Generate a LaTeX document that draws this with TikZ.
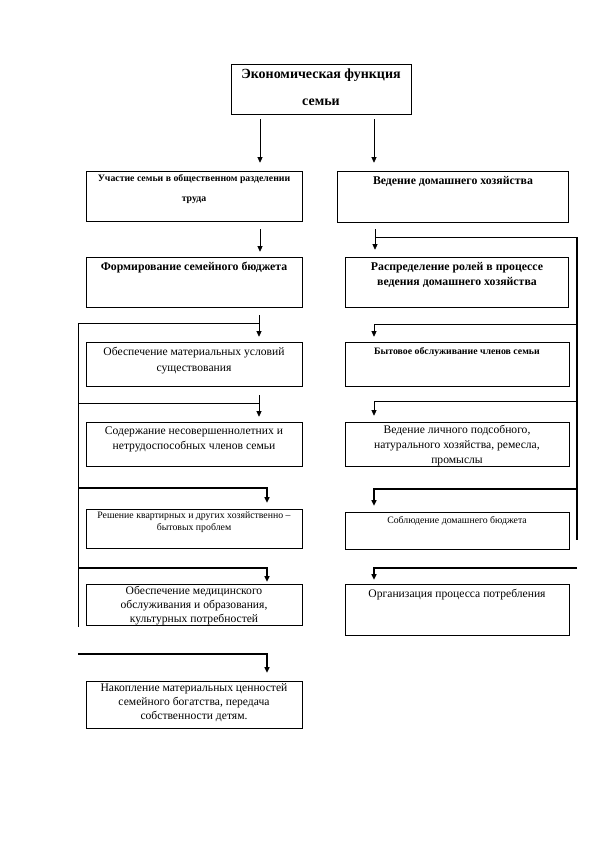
\documentclass[tikz,border=0pt]{standalone}
\usepackage{fontspec}
\setmainfont{Liberation Serif}
\usetikzlibrary{arrows.meta}
\begin{document}
\begin{tikzpicture}[x=1pt,y=-1pt,
  box/.style={draw, line width=0.6pt, inner sep=0pt},
  tl/.style={anchor=mid, inner sep=0pt},
  thn/.style={line width=0.6pt},
  thk/.style={line width=1.5pt},
  arr/.style={-{Triangle[width=5pt,length=5.5pt]}},
  fT/.style={tl, font=\fontsize{14}{16}\selectfont\bfseries},
  fBs/.style={tl, font=\fontsize{9.8}{11}\selectfont\bfseries},
  fBm/.style={tl, font=\fontsize{11.8}{13}\selectfont\bfseries},
  fR/.style={tl, font=\fontsize{11.6}{13}\selectfont},
  fRs/.style={tl, font=\fontsize{9.8}{11}\selectfont},
]
\useasboundingbox (0,0) rectangle (595,842);

% boxes
\node[box, minimum width=180pt, minimum height=50pt] (top) at (321,89) {};
\node[box, minimum width=216pt, minimum height=50pt] (L1) at (194,196) {};
\node[box, minimum width=216pt, minimum height=50pt] (L2) at (194,282) {};
\node[box, minimum width=216pt, minimum height=44pt] (L3) at (194,364) {};
\node[box, minimum width=216pt, minimum height=44pt] (L4) at (194,444) {};
\node[box, minimum width=216pt, minimum height=39pt] (L5) at (194,528.5) {};
\node[box, minimum width=216pt, minimum height=41pt] (L6) at (194,604.5) {};
\node[box, minimum width=216pt, minimum height=47pt] (L7) at (194,704.5) {};

\node[box, minimum width=231pt, minimum height=51pt] (R1) at (452.5,196.5) {};
\node[box, minimum width=223pt, minimum height=50pt] (R2) at (456.5,282) {};
\node[box, minimum width=224pt, minimum height=44pt] (R3) at (457,364) {};
\node[box, minimum width=224pt, minimum height=44pt] (R4) at (457,444) {};
\node[box, minimum width=224pt, minimum height=37pt] (R5) at (457,530.5) {};
\node[box, minimum width=224pt, minimum height=51pt] (R6) at (457,609.5) {};

% texts
\node[fT] (topa) at (321,76) {Экономическая функция};
\node[fT] (topb) at (321,103) {семьи};
\node[fBs] (L1a) at (194,179) {Участие семьи в общественном разделении};
\node[fBs] (L1b) at (194,199) {труда};
\node[fBm] (L2a) at (194,268) {Формирование семейного бюджета};
\node[fR] (L3a) at (194,353) {Обеспечение материальных условий};
\node[fR] (L3b) at (194,369) {существования};
\node[fR] (L4a) at (194,432) {Содержание несовершеннолетних и};
\node[fR] (L4b) at (194,447) {нетрудоспособных членов семьи};
\node[fRs] (L5a) at (194,516) {Решение квартирных и других хозяйственно –};
\node[fRs] (L5b) at (194,528) {бытовых проблем};
\node[fR] (L6a) at (194,592.5) {Обеспечение медицинского};
\node[fR] (L6b) at (194,606.5) {обслуживания и образования,};
\node[fR] (L6c) at (194,620) {культурных потребностей};
\node[fR] (L7a) at (194,689) {Накопление материальных ценностей};
\node[fR] (L7b) at (194,703) {семейного богатства, передача};
\node[fR] (L7c) at (194,717) {собственности детям.};

\node[fBm] (R1a) at (453,182) {Ведение домашнего хозяйства};
\node[fBm] (R2a) at (457,268) {Распределение ролей в процессе};
\node[fBm] (R2b) at (457,283) {ведения домашнего хозяйства};
\node[fBs] (R3a) at (457,352) {Бытовое обслуживание членов семьи};
\node[fR] (R4a) at (457,431.5) {Ведение личного подсобного,};
\node[fR] (R4b) at (457,446.5) {натурального хозяйства, ремесла,};
\node[fR] (R4c) at (457,461) {промыслы};
\node[fRs] (R5a) at (457,521) {Соблюдение домашнего бюджета};
\node[fR] (R6a) at (457,595) {Организация процесса потребления};

% connectors: top level
\draw[thn, arr, shorten <=5pt, shorten >=8pt] (top.south -| 260,0) -- (L1.north -| 260,0);
\draw[thn, arr, shorten <=5pt, shorten >=8pt] (top.south -| 374,0) -- (R1.north -| 374,0);
\draw[thn, arr, shorten <=8pt, shorten >=5pt] (L1.south -| 260,0) -- (L2.north -| 260,0);

% right bus
\coordinate (rb0) at (577,237);
\coordinate (rb1) at (577,540);
\coordinate (r3h) at (577,324);
\coordinate (r4h) at (577,401);
\coordinate (r5h) at (577,489);
\coordinate (r6h) at (577,568);
\draw[thn, arr, shorten <=7pt, shorten >=7pt] (R1.south -| 375,0) -- (R2.north -| 375,0);
\draw[thn] (375,237) -- (rb0);
\draw[thk] (rb0) -- (rb1);
\draw[thn, arr, shorten >=5pt] (r3h) -| (R3.north -| 374,0);
\draw[thn, arr, shorten >=6pt] (r4h) -| (R4.north -| 374,0);
\draw[thk, arr, shorten >=6pt] (r5h) -| (R5.north -| 374,0);
\draw[thk, arr, shorten >=4pt] (r6h) -| (R6.north -| 374,0);

% left bus
\coordinate (lb0) at (78,323);
\coordinate (lb1) at (78,627);
\coordinate (l4h) at (78,403);
\coordinate (l5h) at (78,488);
\coordinate (l6h) at (78,568);
\coordinate (l7h) at (78,654);
\draw[thn] (lb0) -- (lb1);
\draw[thn, arr, shorten <=8pt, shorten >=5pt] (L2.south -| 259,0) -- (L3.north -| 259,0);
\draw[thn] (lb0) -- (259,323);
\draw[thn, arr, shorten >=5pt] (259,395) -- (L4.north -| 259,0);
\draw[thn] (l4h) -- (259,403);
\draw[thk, arr, shorten >=6pt] (l5h) -| (L5.north -| 267,0);
\draw[thk, arr, shorten >=2pt] (l6h) -| (L6.north -| 267,0);
\draw[thk, arr, shorten >=8pt] (l7h) -| (L7.north -| 267,0);
\end{tikzpicture}
\end{document}
